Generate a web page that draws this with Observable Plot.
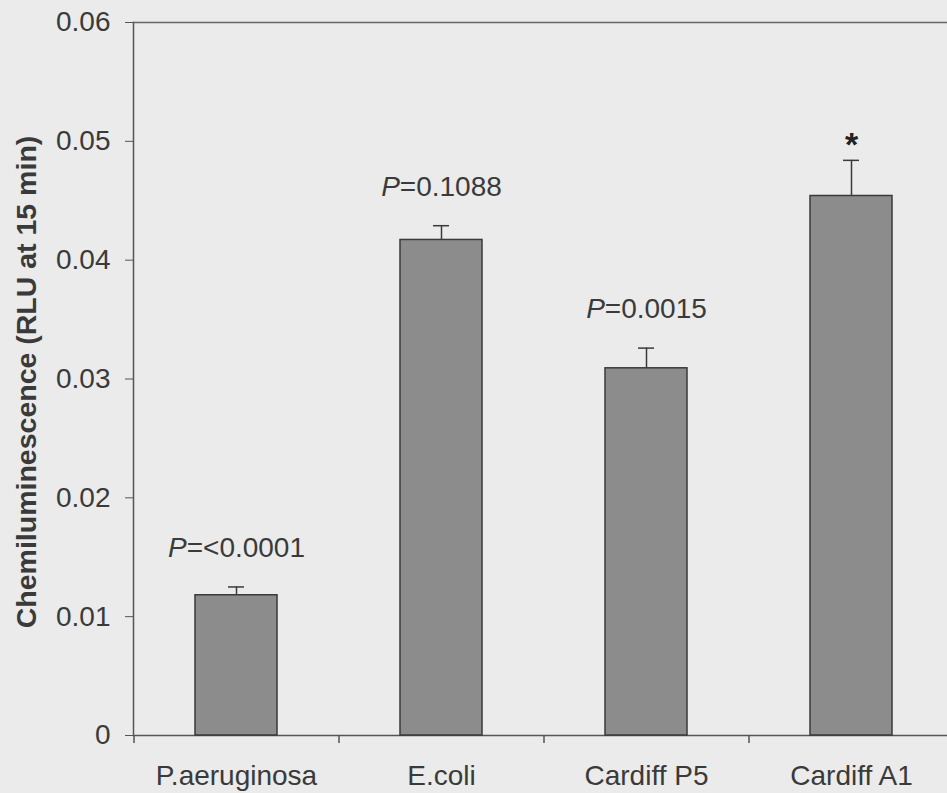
<!DOCTYPE html>
<html>
<head>
<meta charset="utf-8">
<script src="https://cdn.jsdelivr.net/npm/d3@7"></script>
<script src="https://cdn.jsdelivr.net/npm/@observablehq/plot@0.6"></script>
<style>
  html, body { margin: 0; padding: 0; background: #ebebeb; }
  #chart svg { display: block; }
</style>
</head>
<body>
<div id="chart"></div>
<script>
const categories = ["P.aeruginosa", "E.coli", "Cardiff P5", "Cardiff A1"];
const values = [0.0118, 0.0417, 0.0309, 0.0454];
const errors = [0.0007, 0.0012, 0.0017, 0.0030];
const pValues = ["<0.0001", "0.1088", "0.0015", null];
const stars = [null, null, null, "*"];
const yTicks = [0, 0.01, 0.02, 0.03, 0.04, 0.05, 0.06];
const yTickLabels = ["0", "0.01", "0.02", "0.03", "0.04", "0.05", "0.06"];
const yLabel = "Chemiluminescence (RLU at 15 min)";

const data = categories.map((c, i) => ({
  cat: c, value: values[i], err: errors[i], top: values[i] + errors[i],
  p: pValues[i], star: stars[i]
}));

const font = "'Liberation Sans', Arial, Helvetica, sans-serif";
const ink = "#3a3a3a";

const plot = Plot.plot({
  width: 947,
  height: 793,
  marginTop: 22,
  marginBottom: 58,
  marginLeft: 133,
  marginRight: 0,
  style: { background: "#ebebeb", color: ink, fontFamily: font, overflow: "visible" },
  x: { domain: categories, range: [133, 953], paddingInner: 0.6, paddingOuter: 0.3 },
  y: { domain: [0, 0.06] },
  marks: [
    Plot.frame({ anchor: "left", stroke: "#555", strokeWidth: 1.5 }),
    Plot.frame({ anchor: "top", stroke: "#666", strokeWidth: 1.5 }),
    Plot.ruleY([0], { stroke: "#555", strokeWidth: 1.5 }),
    Plot.axisY({
      ticks: yTicks,
      tickFormat: (d) => yTickLabels[yTicks.indexOf(d)],
      tickSize: 8, tickPadding: 15, fontSize: 28, label: null,
      stroke: "#555"
    }),
    Plot.axisX({
      tickSize: 0, tickPadding: 30, fontSize: 28, label: null
    }),
    // category boundary ticks
    Plot.ruleX(categories, { x: d => d, dx: -102.5, y1: 0, y2: -0.00067, stroke: "#555", strokeWidth: 1.5 }),
    // bars
    Plot.barY(data, { x: "cat", y: "value", fill: "#8c8c8c", stroke: ink, strokeWidth: 1.5 }),
    // error bars
    Plot.ruleX(data, { x: "cat", y1: "value", y2: "top", stroke: ink, strokeWidth: 1.5 }),
    Plot.tickY(data, { x: "cat", y: "top", stroke: ink, strokeWidth: 1.5, insetLeft: 33, insetRight: 33 }),
    // P value annotations
    Plot.text(data.filter(d => d.p), {
      x: "cat", y: "top", text: d => "P=" + d.p, dy: -30, lineAnchor: "bottom",
      fontSize: 28, fill: ink, className: "ptext"
    }),
    Plot.text(data.filter(d => d.star), {
      x: "cat", y: "top", text: "star", dy: -4, lineAnchor: "bottom",
      fontSize: 34, fontWeight: "bold", fill: "#222"
    }),
    // y label
    Plot.text([yLabel], {
      frameAnchor: "left", rotate: -90, dx: -98, dy: 3, lineAnchor: "bottom",
      textAnchor: "middle",
      fontSize: 28.5, fontWeight: "bold", fill: ink
    })
  ]
});

// Italicize the leading "P" of each annotation
d3.select(plot).selectAll(".ptext text").each(function () {
  const t = this.textContent;
  if (t.startsWith("P")) {
    this.textContent = "";
    const sel = d3.select(this);
    sel.append("tspan").attr("font-style", "italic").text("P");
    sel.append("tspan").text(t.slice(1));
  }
});

document.getElementById("chart").appendChild(plot);
</script>
</body>
</html>
